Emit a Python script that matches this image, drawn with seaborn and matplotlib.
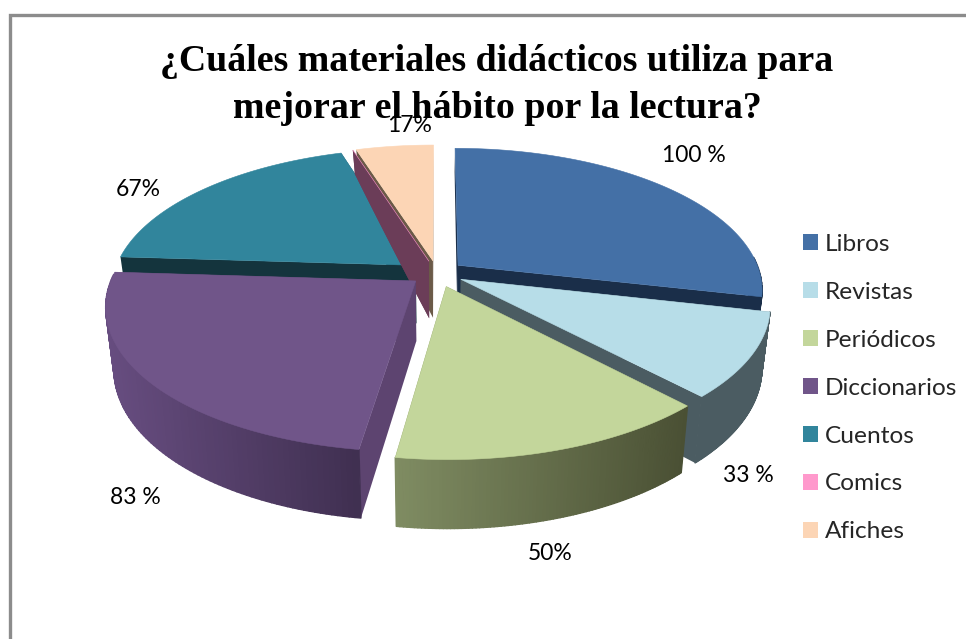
import numpy as np
import seaborn as sns
import matplotlib
matplotlib.use("Agg")
import matplotlib.pyplot as plt
from matplotlib.collections import PolyCollection
from matplotlib.patches import Patch, Polygon

# Data
categories = ["Libros", "Revistas", "Periódicos", "Diccionarios", "Cuentos", "Comics", "Afiches"]
values = [100, 33, 50, 83, 67, 0, 17]
value_labels = ["100 %", "33 %", "50%", "83 %", "67%", "", "17%"]
title = "¿Cuáles materiales didácticos utiliza para\nmejorar el hábito por la lectura?"

# Styles
explode = [0.09, 0.09, 0.10, 0.09, 0.09, 0.09, 0.09]
top_colors = ["#4470a6", "#b7dde8", "#c3d69b", "#705589", "#31859c", "#ff99cc", "#fcd5b5"]
wall_colors = ["#1a2e49", "#4b5c62", "#4c5236", "#5d4470", "#14343d", "#6b3d58", "#6b5a48"]
rim_left = ["#1a2e49", "#4b5c62", "#7f8c62", "#674d80", "#14343d", "#6b3d58", "#6b5a48"]
rim_right = ["#1a2e49", "#4b5c62", "#4a5034", "#3f2f50", "#14343d", "#6b3d58", "#6b5a48"]
draw_order = [0, 4, 6, 5, 1, 3, 2]
label_xy = [(694, 155), (748, 476), (550, 554), (135, 497), (138, 190), None, (410, 126)]

CX, CY = 437, 273
RX, RY = 302, 139
PERSP = 0.168

sns.set_theme(style="white")
plt.rcParams["font.family"] = ["Lato", "DejaVu Sans"]

fig, ax = plt.subplots(figsize=(9.66, 6.39), dpi=100)
ax.set_position([0, 0, 1, 1])

# the pie gives the angles and the exploded centres, then it gets tilted by hand
wedges, _ = ax.pie(values, startangle=90, counterclock=False, explode=explode,
                   colors=sns.color_palette(top_colors))
geometry = [(w.theta1, w.theta2, w.center[0], w.center[1], w.r) for w in wedges]
for w in wedges:
    w.remove()
ax.set_aspect("auto")
ax.set_xlim(0, 966)
ax.set_ylim(639, 0)
ax.axis("off")


def project(x, y, bottom=False):
    x, y = np.asarray(x, float), np.asarray(y, float)
    s = 1 / (1 + PERSP * y)
    sx = RX * x * s
    sy = CY - RY * y * s
    if bottom:
        sx = sx * 0.975
        sy = sy + np.interp(y, [-1.1, 0, 1.1], [69, 60, 22])
    return np.column_stack([CX + sx, sy])


def blend(c1, c2, t):
    a = np.array(matplotlib.colors.to_rgb(c1))
    b = np.array(matplotlib.colors.to_rgb(c2))
    return tuple(a + (b - a) * t)


z = 10
for i in draw_order:
    t1, t2, cx, cy, r = geometry[i]
    ang = np.radians(np.linspace(t1, t2, 90))
    rim_x = cx + r * np.cos(ang)
    rim_y = cy + r * np.sin(ang)

    # the two cut faces
    for a in (t1, t2):
        rr = np.linspace(0, r, 30)
        wx = cx + rr * np.cos(np.radians(a))
        wy = cy + rr * np.sin(np.radians(a))
        pts = np.vstack([project(wx, wy), project(wx, wy, True)[::-1]])
        ax.add_patch(Polygon(pts, closed=True, fc=wall_colors[i], ec="none", lw=0, zorder=z))
    z += 1

    # outer side, shaded left to right, back part is hidden anyway
    if t2 > t1:
        top = project(rim_x, rim_y)
        bot = project(rim_x, rim_y, True)
        xs = top[:, 0]
        span = max(xs.max() - xs.min(), 1)
        quads, cols = [], []
        for k in range(len(top) - 1):
            if np.sin(ang[k]) < 0.05:
                quads.append([top[k], top[k + 1], bot[k + 1], bot[k]])
                cols.append(blend(rim_left[i], rim_right[i], (xs[k] - xs.min()) / span))
        if quads:
            ax.add_collection(PolyCollection(quads, facecolors=cols, edgecolors=cols, linewidths=1.0, zorder=z))
    z += 1

    # top face
    face = project(np.r_[cx, rim_x], np.r_[cy, rim_y])
    ax.add_patch(Polygon(face, closed=True, fc=top_colors[i], ec=top_colors[i], lw=0.4, zorder=z))
    z += 1

for text, xy in zip(value_labels, label_xy):
    if xy is not None:
        ax.text(xy[0], xy[1], text, ha="center", va="center", fontsize=16.5, color="black", zorder=200)

ax.text(497, 85, title, ha="center", va="center", fontsize=27.3, fontweight="bold",
        family="Liberation Serif", color="black", linespacing=1.44, zorder=150)

# frame, only top and left in the picture
ax.plot([10, 10, 966], [639, 15, 15], color="#8c8c8c", lw=2.4, solid_joinstyle="miter", zorder=1)

handles = [Patch(facecolor=c, edgecolor="none") for c in top_colors]
ax.legend(handles, categories, loc="upper left", bbox_to_anchor=(803 / 966, 1 - 234 / 639),
          frameon=False, fontsize=17.6, handlelength=0.62, handleheight=0.62, handletextpad=0.29,
          labelspacing=1.10, borderpad=0, borderaxespad=0)

fig.savefig("out.png", dpi=100)
